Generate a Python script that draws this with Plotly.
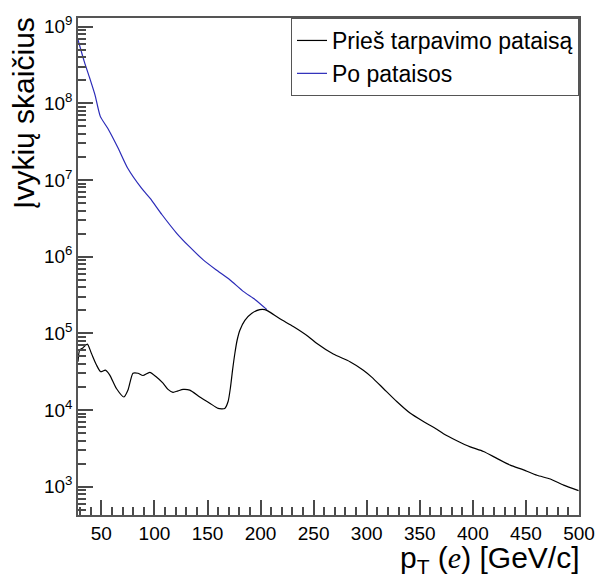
import plotly.graph_objects as go

# Po pataisos (after correction)
pt_after = [28, 34, 39, 44, 49, 56, 66, 75, 88, 96, 107, 121, 133, 146, 158, 171, 184, 195, 206]
n_after = [6.76e8, 3.47e8, 2.14e8, 1.29e8, 6.76e7, 4.73e7, 2.57e7, 1.41e7, 7.76e6, 5.75e6,
           3.55e6, 2.02e6, 1.35e6, 9.1e5, 6.76e5, 5.0e5, 3.5e5, 2.75e5, 2.04e5]

# Prieš tarpavimo pataisą (before correction)
pt_before = [28, 29.5, 32.6, 36.8, 40.6, 45.3, 49.3, 53.8, 57.8, 64.2, 71.3, 75.1, 79.8, 84.5,
             89.2, 95.6, 101.9, 108.1, 112.8, 117.5, 122.3, 127, 133.3, 142.7, 152.1, 160,
             166.3, 169.4, 171.7, 173.6, 175.8, 177.9, 180.5, 185.2, 191.5, 199.3, 204, 207.2,
             218.2, 230.8, 244.9, 252.8, 268.5, 284.2, 296.8, 304.7, 315.7, 328.3, 340.8,
             353.4, 366, 372.3, 384.9, 397.5, 410, 422.6, 435.2, 447.7, 460.4, 473, 485.5, 499.6]
n_before = [42700, 60300, 64600, 72400, 55000, 38900, 31600, 33100, 28800, 19100, 14800, 18200,
            30200, 30200, 28200, 30900, 26900, 22400, 18600, 17000, 17800, 18600, 18200, 14800,
            12300, 10500, 10500, 12900, 20000, 33100, 55000, 81300, 110000, 148000, 182000,
            204000, 204000, 195000, 155000, 123000, 91200, 74100, 53700, 42700, 33100, 26900,
            19100, 12900, 9120, 7080, 5620, 4900, 3980, 3310, 2880, 2340, 1910, 1660, 1410,
            1260, 1050, 890]

y_major = [1e3, 1e4, 1e5, 1e6, 1e7, 1e8, 1e9]
y_major_text = ["10<sup>3</sup>", "10<sup>4</sup>", "10<sup>5</sup>", "10<sup>6</sup>",
                "10<sup>7</sup>", "10<sup>8</sup>", "10<sup>9</sup>"]
y_minor = [m * 10 ** e for e in range(2, 10) for m in range(2, 10)]

label_before = "Prieš tarpavimo pataisą"
label_after = "Po pataisos"
x_title = 'p<sub>T</sub> (<span style="font-family:Liberation Serif"><i>e</i></span>) [GeV/c]'
y_title = "Įvykių skaičius"

FONT = "Liberation Sans, Arial, sans-serif"
AX = "#555555"
TK = "#4a4a4a"
yrange = [2.631, 9.113]

fig = go.Figure()
fig.add_trace(go.Scatter(x=pt_after, y=n_after, mode="lines", name=label_after,
                         line=dict(color="#2a2ab8", width=1.2, shape="spline", smoothing=0.6),
                         legendrank=2))
fig.add_trace(go.Scatter(x=pt_before, y=n_before, mode="lines", name=label_before,
                         line=dict(color="#000000", width=1.2, shape="spline", smoothing=0.6),
                         legendrank=1))

fig.update_layout(
    width=595, height=581,
    margin=dict(l=78, r=16, t=18, b=66, autoexpand=False),
    paper_bgcolor="white", plot_bgcolor="white",
    font=dict(family=FONT, color="black"),
    showlegend=True,
    legend=dict(x=1, xanchor="right", y=1, yanchor="top", bgcolor="white",
                bordercolor=AX, borderwidth=1, font=dict(size=23, family=FONT),
                itemwidth=30, tracegroupgap=0),
    xaxis=dict(range=[28, 500], tickmode="linear", tick0=0, dtick=50, ticks="inside",
               ticklen=15, tickcolor=TK, tickwidth=1.6, showline=True, linecolor=AX,
               linewidth=1.5, mirror=True, showgrid=False, zeroline=False, automargin=False,
               tickfont=dict(size=19, family=FONT),
               minor=dict(dtick=10, tick0=0, ticks="inside", ticklen=8, tickcolor=TK,
                          tickwidth=1.6, showgrid=False)),
    yaxis=dict(type="log", range=yrange, tickmode="array", tickvals=y_major,
               ticktext=y_major_text, ticks="inside", ticklen=15, tickcolor=TK, tickwidth=1.6,
               showline=True, linecolor=AX, linewidth=1.5, mirror=True, showgrid=False,
               zeroline=False, automargin=False, tickfont=dict(size=19, family=FONT),
               minor=dict(tickvals=y_minor, ticks="inside", ticklen=8, tickcolor=TK,
                          tickwidth=1.6, showgrid=False)),
    annotations=[
        dict(text=x_title, xref="paper", yref="paper", x=1.005, y=-0.09, xanchor="right",
             yanchor="middle", showarrow=False, font=dict(size=30, family=FONT)),
        dict(text=y_title, xref="paper", yref="paper", x=-0.11, y=1.006, xanchor="center",
             yanchor="top", textangle=-90, showarrow=False, font=dict(size=30, family=FONT)),
    ],
)

fig.write_html("out.html")
